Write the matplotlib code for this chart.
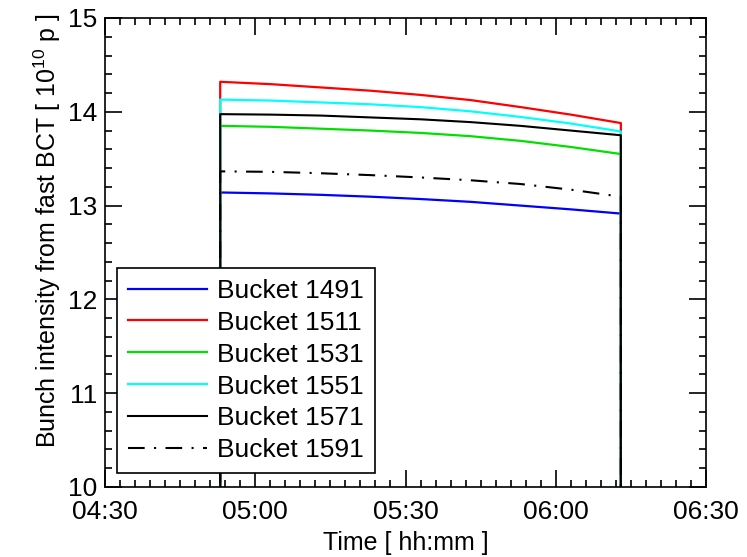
import matplotlib
matplotlib.use("Agg")
import matplotlib.pyplot as plt
import matplotlib.dates as mdates
import pandas as pd

plt.rcParams['font.family'] = ['Liberation Sans', 'DejaVu Sans']
plt.rcParams['mathtext.fontset'] = 'custom'
plt.rcParams['mathtext.rm'] = 'Liberation Sans'

# --- data -------------------------------------------------------------
times = ["04:53", "05:03", "05:13", "05:23", "05:33", "05:43", "05:53", "06:03", "06:13"]
labels = ["Bucket 1491", "Bucket 1511", "Bucket 1531", "Bucket 1551", "Bucket 1571", "Bucket 1591"]
b1491 = [13.14, 13.13, 13.115, 13.095, 13.07, 13.04, 13.00, 12.96, 12.915]
b1511 = [14.32, 14.295, 14.26, 14.225, 14.18, 14.125, 14.05, 13.97, 13.88]
b1531 = [13.85, 13.84, 13.82, 13.80, 13.775, 13.74, 13.69, 13.625, 13.55]
b1551 = [14.13, 14.12, 14.10, 14.08, 14.05, 14.005, 13.945, 13.875, 13.79]
b1571 = [13.975, 13.97, 13.96, 13.94, 13.92, 13.89, 13.85, 13.80, 13.75]
b1591 = [13.365, 13.36, 13.345, 13.325, 13.30, 13.27, 13.23, 13.17, 13.095]
empty_level = 0.0  # intensity before injection / after dump

series = [b1491, b1511, b1531, b1551, b1571, b1591]
colors = ["#0000ff", "#ff0000", "#00e000", "#00ffff", "#000000", "#000000"]

t = pd.to_datetime(["2012-01-01 " + s for s in times])

fig = plt.figure(figsize=(7.47, 5.57), dpi=100)
ax = fig.add_axes([105/747, 1-487/557, 601/747, 469/557])

handles = []
for vals, col, lab in zip(series, colors, labels):
    xs = [t[0]] + list(t) + [t[-1]]
    ys = [empty_level] + vals + [empty_level]
    if lab == "Bucket 1591":
        h, = ax.plot(xs, ys, color=col, lw=1.5, label=lab, dashes=(8, 4.5, 1, 4.5))
    elif lab == "Bucket 1571":
        h, = ax.plot(xs, ys, color=col, lw=1.5, label=lab)
    else:
        h, = ax.plot(xs, ys, color=col, lw=1.6, label=lab)
    handles.append(h)

ax.set_xlim(pd.Timestamp("2012-01-01 04:30"), pd.Timestamp("2012-01-01 06:30"))
ax.set_ylim(10, 15)
ax.xaxis.set_major_locator(mdates.MinuteLocator(byminute=[0, 30]))
ax.xaxis.set_minor_locator(mdates.MinuteLocator(byminute=range(0, 60, 3)))
ax.xaxis.set_major_formatter(mdates.DateFormatter("%H:%M"))
ax.set_yticks([10, 11, 12, 13, 14, 15])
ax.set_yticks([10 + 0.2 * i for i in range(26)], minor=True)

ax.tick_params(which='both', direction='in', top=True, right=True, labelsize=19, colors='black')
ax.tick_params(which='major', length=12, width=1.2)
ax.tick_params(axis='x', which='major', pad=9.5)
ax.tick_params(axis='y', which='major', pad=5.5)
ax.tick_params(which='minor', length=5, width=1.2)
for sp in ax.spines.values():
    sp.set_linewidth(1.2)

ax.set_xlabel("Time [ hh:mm ]", fontsize=18)
ax.xaxis.set_label_coords(0.5, -0.119)
ax.xaxis.label.set_va('center')
ax.set_ylabel(r"Bunch intensity from fast BCT [ 10$^{\mathregular{10}}$ p ]", fontsize=18)
ax.yaxis.set_label_coords(-0.0965, 0.546)
ax.yaxis.label.set_va('center')

leg = ax.legend(handles=handles, loc='lower left', bbox_to_anchor=(0.02, 0.03), borderaxespad=0,
                fontsize=19, frameon=True, fancybox=False, edgecolor='black', framealpha=1,
                handlelength=3.0, handletextpad=0.4, labelspacing=0.3, borderpad=0.4)
leg.get_frame().set_linewidth(1.2)

fig.savefig("out.png", dpi=100)
